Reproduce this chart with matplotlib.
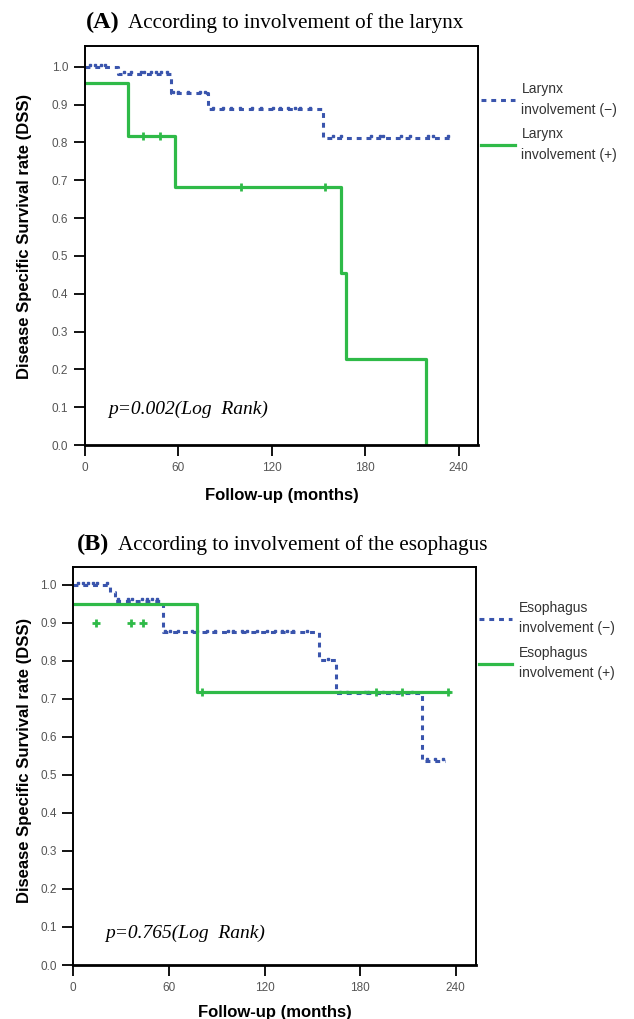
import matplotlib
matplotlib.use('Agg')
import matplotlib.pyplot as plt

# panel A: larynx
larynx_neg_t = [0, 21, 55, 79, 153, 236]
larynx_neg_s = [1.0, 0.982, 0.930, 0.888, 0.813, 0.813]
larynx_neg_cens = [3, 6.5, 10, 13, 25, 29.5, 36, 38, 42.6, 45.8, 49, 53, 56.7, 60, 66.3, 73.8, 77,
                   82.4, 88.8, 94.1, 99.5, 107, 113.4, 120.9, 125.2, 130.5, 134.8, 138, 144.5,
                   159.3, 164.7, 184, 189.3, 191.4, 203.2, 208.5, 220.3, 223.5, 233.1]
larynx_pos_t = [0, 27.4, 58, 164.7, 167.9, 218.8]
larynx_pos_s = [0.956, 0.818, 0.683, 0.454, 0.227, 0.0]
larynx_pos_cens = [37, 48, 100, 154]

# panel B: esophagus
eso_neg_t = [0, 23, 26, 56, 154, 165, 219, 233]
eso_neg_s = [1.0, 0.981, 0.959, 0.876, 0.802, 0.715, 0.537, 0.537]
eso_neg_cens = [3, 6, 9.4, 12.6, 14.7, 21, 28, 34.5, 36.6, 42.9, 46, 49.2, 52.3,
                57.5, 60.7, 65.9, 74.3, 77.5, 83.7, 89, 97.3, 100.4, 105.7, 108.8, 115.1, 121.4,
                126.6, 130.8, 133.9, 138, 146.5, 159.9, 167.4, 171.6, 183, 185, 190.4, 194.6,
                200.8, 206.1, 212.4, 221.8, 227, 232.2]
eso_pos_t = [0, 77.8, 236]
eso_pos_s = [0.949, 0.719, 0.719]
eso_pos_cens = [80.6, 190, 206, 235]
eso_pos_extra_t = [14, 36.2, 44]
eso_pos_extra_s = [0.899, 0.899, 0.899]

xticks = [0, 60, 120, 180, 240]
yticks = [0.0, 0.1, 0.2, 0.3, 0.4, 0.5, 0.6, 0.7, 0.8, 0.9, 1.0]

blue = '#3a55ad'
green = '#2fba48'


def surv_at(t, times, surv):
    val = surv[0]
    for ti, si in zip(times, surv):
        if t >= ti:
            val = si
    return val


def km_panel(ax, neg_t, neg_s, neg_c, pos_t, pos_s, pos_c, pos_marker, ytop, name, leg_y, xpad):
    ax.step(neg_t, neg_s, where='post', color=blue, lw=2.2, ls=(0, (1.6, 1.6)),
            label=name + '\ninvolvement (\u2212)')
    ax.plot(neg_c, [surv_at(c, neg_t, neg_s) + 0.004 for c in neg_c], ls='none',
            marker='s', ms=2, color=blue)
    ax.step(pos_t, pos_s, where='post', color=green, lw=2.3,
            label=name + '\ninvolvement (+)')
    ax.plot(pos_c, [surv_at(c, pos_t, pos_s) for c in pos_c], ls='none',
            marker=pos_marker, ms=6, mew=2, color=green)
    ax.set_xlim(0, 252.5)
    ax.set_ylim(0, ytop)
    ax.set_xticks(xticks)
    ax.set_xticklabels([str(x) for x in xticks])
    ax.set_yticks(yticks)
    ax.set_yticklabels(['%.1f' % y for y in yticks])
    ax.tick_params(direction='out', length=8, width=1.3, labelsize=8.5,
                   labelcolor='#555555', pad=4)
    for sp in ax.spines.values():
        sp.set_linewidth(1.4)
    ax.spines['bottom'].set_linewidth(2)
    ax.set_xlabel('Follow-up (months)', fontsize=12, fontweight='bold', labelpad=xpad)
    leg = ax.legend(loc='center left', bbox_to_anchor=(0.994, leg_y), frameon=False,
                    fontsize=10, handlelength=2.4, handletextpad=0.5, labelspacing=0.75,
                    borderaxespad=0)
    for t in leg.get_texts():
        t.set_linespacing(1.6)
        t.set_color('#333333')


plt.rcParams['font.family'] = ['Liberation Sans', 'DejaVu Sans']

fig = plt.figure(figsize=(6.34, 10.19), dpi=100)

axA = fig.add_axes([85 / 634, 1 - 445 / 1019, 393 / 634, 399 / 1019])
km_panel(axA, larynx_neg_t, larynx_neg_s, larynx_neg_cens,
         larynx_pos_t, larynx_pos_s, larynx_pos_cens, '|', 1.055, 'Larynx', 0.809, 10)
axA.text(0.06, 0.09, 'p=0.002(Log  Rank)', transform=axA.transAxes, fontsize=14,
         family='Liberation Serif', style='italic', va='center')

axB = fig.add_axes([73.3 / 634, 1 - 965 / 1019, 402.4 / 634, 398.3 / 1019])
km_panel(axB, eso_neg_t, eso_neg_s, eso_neg_cens,
         eso_pos_t, eso_pos_s, eso_pos_cens, '+', 1.048, 'Esophagus', 0.815, 8)
axB.plot(eso_pos_extra_t, eso_pos_extra_s, ls='none', marker='+', ms=6, mew=2, color=green)
axB.text(0.08, 0.08, 'p=0.765(Log  Rank)', transform=axB.transAxes, fontsize=14,
         family='Liberation Serif', style='italic', va='center')

for y in [236 / 1019, 760 / 1019]:
    fig.text(25 / 634, 1 - y, 'Disease Specific Survival rate (DSS)', rotation=90,
             fontsize=12, fontweight='bold', ha='center', va='center')

# panel titles
fig.text(86 / 634, 1 - 22 / 1019, '(A)', fontsize=17.5, fontweight='bold',
         family='Liberation Serif', ha='left', va='center')
fig.text(128 / 634, 1 - 23 / 1019, 'According to involvement of the larynx', fontsize=15.2,
         family='Liberation Serif', ha='left', va='center')
fig.text(77 / 634, 1 - 544 / 1019, '(B)', fontsize=17.5, fontweight='bold',
         family='Liberation Serif', ha='left', va='center')
fig.text(118 / 634, 1 - 545 / 1019, 'According to involvement of the esophagus', fontsize=15.2,
         family='Liberation Serif', ha='left', va='center')

plt.savefig('out.png', dpi=100)
